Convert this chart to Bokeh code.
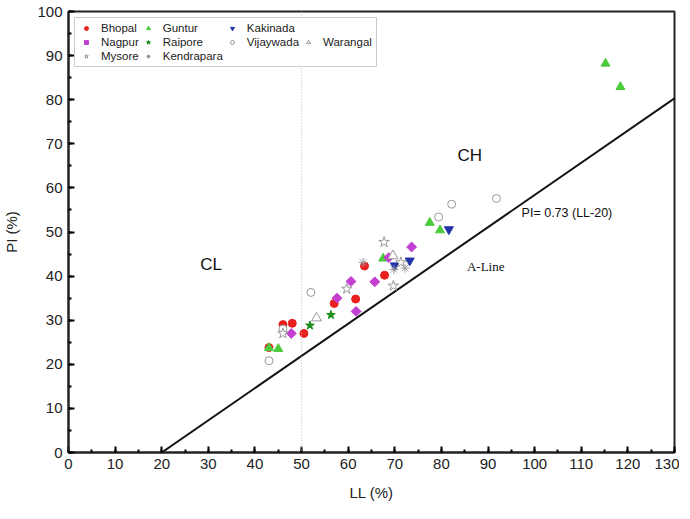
import math
from bokeh.plotting import figure
from bokeh.models import (Range1d, SingleIntervalTicker, Span, Label, Legend, LegendItem)
from bokeh.embed import file_html
from bokeh.resources import INLINE

# ---------------- data ----------------
bhopal_ll = [43, 46, 48, 50.5, 57, 61.6, 63.5, 67.8]
bhopal_pi = [23.8, 29.0, 29.3, 27.0, 33.8, 34.8, 42.3, 40.2]

guntur_ll = [43, 45, 67.5, 77.5, 79.7, 115.2, 118.4]
guntur_pi = [23.7, 23.5, 44.0, 52.1, 50.4, 88.2, 82.9]

kakinada_ll = [70.0, 73.2, 81.6]
kakinada_pi = [42.4, 43.5, 50.6]

nagpur_ll = [47.8, 57.6, 60.6, 61.7, 65.7, 68.7, 73.6]
nagpur_pi = [27.0, 35.0, 38.8, 32.0, 38.7, 44.2, 46.6]

raipore_ll = [51.8, 56.3]
raipore_pi = [28.8, 31.2]

vijaywada_ll = [43, 46, 52, 79.4, 82.2, 91.8]
vijaywada_pi = [20.8, 28.0, 36.3, 53.4, 56.3, 57.6]

warangal_ll = [53.2, 69.6]
warangal_pi = [30.5, 44.6]

mysore_ll = [46, 59.7, 67.7, 69.7, 71.3]
mysore_pi = [27.0, 37.1, 47.7, 37.8, 43.1]

kendrapara_ll = [63.2, 69.8, 72.2]
kendrapara_pi = [43.1, 41.5, 41.8]

aline_ll = [20, 130]
aline_pi = [0.73 * (v - 20) for v in aline_ll]

FONT = "Liberation Sans"

p = figure(frame_width=606, frame_height=441, output_backend="svg", toolbar_location=None,
           x_range=Range1d(0, 130), y_range=Range1d(0, 100),
           min_border_left=68, min_border_right=5, min_border_top=11, min_border_bottom=52)
p.xgrid.visible = False
p.ygrid.visible = False
p.outline_line_color = "#222222"
p.outline_line_width = 2
p.background_fill_color = "white"
p.border_fill_color = "white"

for ax in (p.xaxis[0], p.yaxis[0]):
    ax.ticker = SingleIntervalTicker(interval=10, num_minor_ticks=2)
    ax.major_tick_in = 6
    ax.major_tick_out = 0
    ax.minor_tick_in = 3
    ax.minor_tick_out = 0
    ax.axis_line_width = 2
    ax.axis_line_color = "#222222"
    ax.major_tick_line_width = 2
    ax.minor_tick_line_width = 2
    ax.major_label_text_font = FONT
    ax.major_label_text_font_size = "15px"
    ax.major_label_text_color = "#222222"
    ax.axis_label_text_font = FONT
    ax.axis_label_text_font_size = "15px"
    ax.axis_label_text_font_style = "normal"
    ax.axis_label_text_color = "#222222"

p.xaxis.axis_label = "LL (%)"
p.yaxis.axis_label = "PI (%)"
p.xaxis.major_label_standoff = 6
p.yaxis.major_label_standoff = 6
p.xaxis.axis_label_standoff = 12
p.yaxis.axis_label_standoff = 14

# dotted vertical line at LL = 50
p.add_layout(Span(location=50, dimension="height", line_color="#c0c0c0",
                  line_dash="1 2", line_width=1))

# A-line
p.line(aline_ll, aline_pi, line_color="#111111", line_width=2)

S = 8
GREY = "#999999"
r_bh = p.scatter(bhopal_ll, bhopal_pi, marker="circle", size=S, fill_color="#e8201e", line_color="#e8201e")
r_gu = p.scatter(guntur_ll, guntur_pi, marker="triangle", size=S + 1, fill_color="#4ccb3d", line_color="#4ccb3d")
r_ka = p.scatter(kakinada_ll, kakinada_pi, marker="inverted_triangle", size=S + 1, fill_color="#2233a8", line_color="#2233a8")
r_na = p.scatter(nagpur_ll, nagpur_pi, marker="square", angle=math.pi / 4, size=S - 1,
                 fill_color="#c23fd2", line_color="#c23fd2")
r_ra = p.scatter(raipore_ll, raipore_pi, marker="star", size=S + 1, fill_color="#1a8c1a", line_color="#1a8c1a")
r_vi = p.scatter(vijaywada_ll, vijaywada_pi, marker="circle", size=S, fill_color="white", line_color=GREY)
r_wa = p.scatter(warangal_ll, warangal_pi, marker="triangle", size=S + 2, fill_color="white", line_color=GREY)
r_my = p.scatter(mysore_ll, mysore_pi, marker="star", size=S + 3, fill_color="white", line_color=GREY)
r_ke = p.scatter(kendrapara_ll, kendrapara_pi, marker="asterisk", size=S + 1, line_color=GREY, line_width=1)
r_dummy = p.scatter([], [], marker="circle", size=1, fill_alpha=0, line_alpha=0)

items = [
    LegendItem(label="Bhopal", renderers=[r_bh]),
    LegendItem(label="Guntur", renderers=[r_gu]),
    LegendItem(label="Kakinada", renderers=[r_ka]),
    LegendItem(label=" ", renderers=[r_dummy]),
    LegendItem(label="Nagpur", renderers=[r_na]),
    LegendItem(label="Raipore", renderers=[r_ra]),
    LegendItem(label="Vijaywada", renderers=[r_vi]),
    LegendItem(label="Warangal", renderers=[r_wa]),
    LegendItem(label="Mysore", renderers=[r_my]),
    LegendItem(label="Kendrapara", renderers=[r_ke]),
]
legend = Legend(items=items, location="top_left", orientation="horizontal", ncols=4,
                label_text_font=FONT, label_text_font_size="11.5px", label_text_color="#222222",
                glyph_width=14, glyph_height=10, label_height=10, label_standoff=8,
                spacing=2, padding=4, margin=6,
                border_line_color="#999999", border_line_width=1,
                background_fill_alpha=1.0)
p.add_layout(legend)

# text annotations
p.add_layout(Label(x=30.6, y=42.6, text="CL", text_font=FONT, text_font_size="17px",
                   text_color="#111111", text_align="center", text_baseline="middle"))
p.add_layout(Label(x=86.1, y=67.3, text="CH", text_font=FONT, text_font_size="17px",
                   text_color="#111111", text_align="center", text_baseline="middle"))
p.add_layout(Label(x=97.2, y=54.2, text="PI= 0.73 (LL-20)", text_font=FONT, text_font_size="12.5px",
                   text_color="#111111", text_align="left", text_baseline="middle"))
p.add_layout(Label(x=89.5, y=42.2, text="A-Line", text_font="Liberation Serif", text_font_size="13px",
                   text_color="#111111", text_align="center", text_baseline="middle"))

open("out.html", "w").write(file_html(p, INLINE))
